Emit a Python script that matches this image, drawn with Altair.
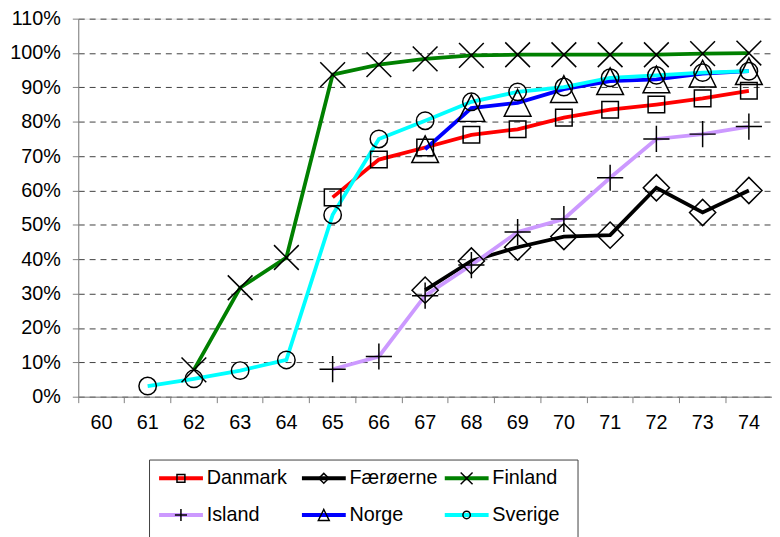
import altair as alt
import pandas as pd

years = [str(y) for y in range(60, 75)]
series = ["Danmark", "Færøerne", "Finland", "Island", "Norge", "Sverige"]

danmark = [None] * 5 + [58.0, 69.0, 72.5, 76.2, 77.8, 81.2, 83.5, 85.0, 86.8, 89.0]
faeroerne = [None] * 7 + [31.0, 39.5, 43.5, 46.6, 47.0, 60.8, 53.6, 60.0]
finland = [None] * 2 + [7.8, 31.7, 40.5, 93.7, 96.6, 98.3, 99.3, 99.5, 99.5, 99.5, 99.5, 99.8, 100.0]
island = [None] * 5 + [8.0, 11.7, 29.4, 38.3, 47.9, 51.7, 63.7, 75.0, 76.4, 78.6]
norge = [None] * 7 + [72.0, 84.0, 85.5, 89.5, 91.8, 92.3, 94.0, 94.7]
sverige = [None] + [3.1, 5.2, 7.6, 10.7, 52.9, 75.0, 80.3, 85.8, 88.7, 90.1, 92.8, 93.5, 94.3, 94.7]

y_ticks = [i / 10 for i in range(0, 12)]

values = [danmark, faeroerne, finland, island, norge, sverige]
rows = []
for name, vals in zip(series, values):
    for yr, v in zip(years, vals):
        if v is not None:
            rows.append({"series": name, "year": yr, "value": v / 100.0})
df = pd.DataFrame(rows)

leg_df = pd.DataFrame({"series": series,
                       "col": [i % 3 for i in range(len(series))],
                       "row": [i // 3 for i in range(len(series))]})

FONT = "Liberation Sans"
FS = 20
colors = ["#FF0000", "#000000", "#008000", "#CC99FF", "#0000FF", "#00FFFF"]
shapes = ["square", "diamond", "M-1,-1L1,1M-1,1L1,-1", "M-1,0L1,0M0,-1L0,1",
          "M0,-1L1,1L-1,1Z", "circle"]
sizes = [280, 700, 625, 700, 729, 310]
legend_sizes = [64, 100, 144, 150, 121, 56]

color_scale = alt.Scale(domain=series, range=colors)

x_enc = alt.X("year:O",
              scale=alt.Scale(type="band", domain=years, paddingInner=0, paddingOuter=0),
              axis=alt.Axis(title=None, labelAngle=0, bandPosition=0, labelFont=FONT,
                            labelFontSize=FS, labelColor="black", tickColor="#808080",
                            domainColor="#808080", tickSize=6, labelPadding=10, grid=False))
y_enc = alt.Y("value:Q",
              scale=alt.Scale(domain=[0, 1.1], nice=False, zero=False),
              axis=alt.Axis(title=None, values=y_ticks, format=".0%", labelFont=FONT,
                            labelFontSize=FS, labelColor="black", tickColor="#808080",
                            domainColor="#808080", tickSize=6, labelPadding=12,
                            grid=True, gridColor="#404040", gridDash=[6, 5], gridWidth=1))

lines = alt.Chart(df).mark_line(strokeWidth=3.8).encode(
    x=x_enc, y=y_enc,
    color=alt.Color("series:N", scale=color_scale, legend=None))

point_layers = []
for name, shp, sz in zip(series, shapes, sizes):
    point_layers.append(
        alt.Chart(df).transform_filter(alt.datum.series == name)
        .mark_point(shape=shp, size=sz, filled=False, stroke="black", strokeWidth=1.5, opacity=1)
        .encode(x=x_enc, y=y_enc)
    )

main = alt.layer(lines, *point_layers)

leg_x = alt.Scale(domain=[0, 3], range=[72, 505], nice=False, zero=False)
leg_y = alt.Scale(domain=[0, 2], range=[446, 520], nice=False, zero=False)

box = alt.Chart(pd.DataFrame({"x0": [0.0], "x1": [3.0], "y0": [0.0], "y1": [2.4]})).mark_rect(
    fill="white", stroke="#404040", strokeWidth=1).encode(
    x=alt.X("x0:Q", scale=leg_x, axis=None), x2="x1:Q",
    y=alt.Y("y0:Q", scale=leg_y, axis=None), y2="y1:Q")

leg_base = alt.Chart(leg_df).transform_calculate(
    lx1="datum.col + 0.067", lx2="datum.col + 0.374",
    mx="datum.col + 0.22", tx="datum.col + 0.40", ly="datum.row + 0.5")

leg_lines = leg_base.mark_rule(strokeWidth=4).encode(
    x=alt.X("lx1:Q", scale=leg_x, axis=None), x2="lx2:Q",
    y=alt.Y("ly:Q", scale=leg_y, axis=None),
    color=alt.Color("series:N", scale=color_scale, legend=None))

leg_pt_layers = []
for name, shp, sz in zip(series, shapes, legend_sizes):
    leg_pt_layers.append(
        leg_base.transform_filter(alt.datum.series == name)
        .mark_point(shape=shp, size=sz, filled=False, stroke="black", strokeWidth=1.5, opacity=1)
        .encode(x=alt.X("mx:Q", scale=leg_x, axis=None),
                y=alt.Y("ly:Q", scale=leg_y, axis=None))
    )

leg_text = leg_base.mark_text(align="left", baseline="middle", font=FONT, fontSize=FS,
                              color="black").encode(
    x=alt.X("tx:Q", scale=leg_x, axis=None),
    y=alt.Y("ly:Q", scale=leg_y, axis=None),
    text="series:N")

legend = alt.layer(box, leg_lines, *leg_pt_layers, leg_text)

chart = alt.layer(main, legend).resolve_scale(
    x="independent", y="independent"
).properties(
    width=701, height=382,
    autosize=alt.AutoSizeParams(type="none"),
    padding={"left": 71, "top": 8, "right": 0, "bottom": 139},
).configure_view(stroke=None).configure(font=FONT, background="white")

chart.save("out.html", embed_options={"renderer": "svg", "actions": False})
